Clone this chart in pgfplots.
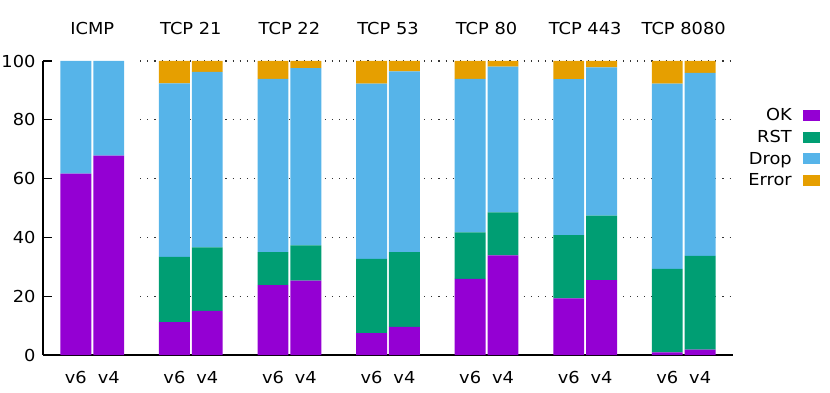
\documentclass[border=0pt]{standalone}
\usepackage{fontspec}
\setmainfont{DejaVu Sans}[FakeStretch=1.08]
\usepackage{pgfplots}
\pgfplotsset{compat=1.18}
\usepackage{pgfplotstable}

\definecolor{cok}{HTML}{9400D3}
\definecolor{crst}{HTML}{009E73}
\definecolor{cdrop}{HTML}{56B4E9}
\definecolor{cerr}{HTML}{E69F00}

\newcommand\ff{\fontsize{16.5bp}{19bp}\selectfont}

% x: v6 at 3k, v4 at 3k+1 ; segments OK, RST, Drop, Error (percent)
\pgfplotstableread{
x    ok    rst   drop  err
0    61.7  0.0   38.3  0.0
1    67.8  0.0   32.2  0.0
3    11.2  22.2  59.0  7.6
4    15.0  21.6  59.7  3.7
6    23.8  11.2  58.9  6.1
7    25.3  12.0  60.3  2.4
9    7.4   25.3  59.6  7.7
10   9.6   25.4  61.5  3.5
12   25.9  15.8  52.2  6.1
13   33.9  14.6  49.6  1.9
15   19.3  21.5  53.0  6.2
16   25.5  21.9  50.4  2.2
18   0.9   28.4  63.0  7.7
19   1.8   31.9  62.3  4.0
}\probes

\begin{document}
\begin{tikzpicture}
\path[use as bounding box] (-43bp,-38bp) rectangle (787bp,355bp);
% grid only, starting right of the ICMP group (x = 1.96 .. 20)
\begin{axis}[
    at={(97.26bp,0)}, anchor=south west,
    scale only axis,
    width=592.74bp, height=294bp,
    xmin=1.96, xmax=20, ymin=0, ymax=100,
    axis line style={draw=none},
    xtick=\empty,
    ytick={20,40,60,80,100},
    yticklabels={},
    tick style={draw=none},
    ymajorgrids=true,
    grid style={black!80, line width=1.1bp, dash pattern=on 1.1bp off 6bp},
]
\end{axis}
\begin{axis}[
    at={(0,0)}, anchor=south west,
    scale only axis,
    width=690bp, height=294bp,
    xmin=-1, xmax=20,
    ymin=0, ymax=100,
    ybar stacked,
    bar width=0.94,
    clip=false,
    axis x line=bottom, axis y line=left,
    axis line style={line width=1.4bp, -},
    xtick={0,1,3,4,6,7,9,10,12,13,15,16,18,19},
    xticklabels={v6,v4,v6,v4,v6,v4,v6,v4,v6,v4,v6,v4,v6,v4},
    xtick style={draw=none},
    xticklabel style={font=\ff, anchor=base, yshift=-28bp},
    ytick={0,20,40,60,80,100},
    ytick style={line width=1.2bp, black},
    major tick length=9bp,
    tick align=inside,
    yticklabel style={font=\ff, xshift=-4bp},
    /pgf/number format/assume math mode=true,
    legend plot pos=right,
    legend cell align=right,
    legend style={draw=none, fill=none, font=\ff,
        at={(1.126,0.842)}, anchor=north east,
        inner sep=0pt,
        nodes={inner sep=1bp},
        row sep=6bp, column sep=10bp},
    legend image code/.code={\fill[#1] (0bp,-5.5bp) rectangle (17bp,5.5bp);},
]
\addplot[fill=cok, draw=none] table[x=x, y=ok] {\probes};
\addplot[fill=crst, draw=none] table[x=x, y=rst] {\probes};
\addplot[fill=cdrop, draw=none] table[x=x, y=drop] {\probes};
\addplot[fill=cerr, draw=none] table[x=x, y=err] {\probes};
\legend{OK, RST, Drop, Error}
\node[anchor=base, font=\ff, inner sep=0pt] at (axis cs:0.5,100) [yshift=26bp] {ICMP};
\node[anchor=base, font=\ff, inner sep=0pt] at (axis cs:3.5,100) [yshift=26bp] {TCP 21};
\node[anchor=base, font=\ff, inner sep=0pt] at (axis cs:6.5,100) [yshift=26bp] {TCP 22};
\node[anchor=base, font=\ff, inner sep=0pt] at (axis cs:9.5,100) [yshift=26bp] {TCP 53};
\node[anchor=base, font=\ff, inner sep=0pt] at (axis cs:12.5,100) [yshift=26bp] {TCP 80};
\node[anchor=base, font=\ff, inner sep=0pt] at (axis cs:15.5,100) [yshift=26bp] {TCP 443};
\node[anchor=base, font=\ff, inner sep=0pt] at (axis cs:18.5,100) [yshift=26bp] {TCP 8080};
\end{axis}
\end{tikzpicture}
\end{document}
